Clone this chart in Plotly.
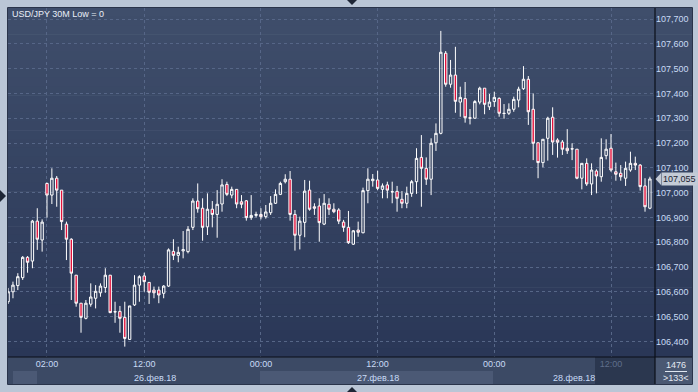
import pandas as pd
import plotly.graph_objects as go

# ---------------- data ----------------
title_text = "USD/JPY 30M Low = 0"
start_time = "2018-02-25 22:00"

open_ = [106.560, 106.600, 106.625, 106.657, 106.739, 106.724, 106.885, 106.809, 107.037, 106.990,
         107.058, 107.010, 106.873, 106.812, 106.667, 106.554, 106.493, 106.550, 106.574, 106.596,
         106.617, 106.667, 106.520, 106.521, 106.497, 106.408, 106.547, 106.627, 106.664, 106.638,
         106.607, 106.607, 106.594, 106.623, 106.763, 106.747, 106.765, 106.762, 106.860, 106.966,
         106.937, 106.862, 106.933, 106.912, 106.954, 107.033, 106.990, 107.013, 106.963, 106.967,
         106.899, 106.908, 106.912, 106.903, 106.919, 106.957, 106.993, 107.044, 107.054, 106.912,
         106.828, 106.880, 107.010, 106.943, 106.946, 106.873, 106.953, 106.933, 106.930, 106.881,
         106.860, 106.792, 106.849, 106.838, 107.008, 107.048, 107.051, 107.013, 107.031, 107.004,
         107.005, 106.973, 106.957, 106.997, 107.044, 107.142, 107.098, 107.054, 107.201, 107.239,
         107.562, 107.437, 107.474, 107.365, 107.379, 107.302, 107.300, 107.365, 107.421, 107.346,
         107.367, 107.380, 107.320, 107.320, 107.336, 107.373, 107.419, 107.457, 107.336, 107.201,
         107.121, 107.219, 107.304, 107.212, 107.204, 107.179, 107.177, 107.175, 107.058, 107.118,
         107.035, 107.087, 107.064, 107.149, 107.179, 107.084, 107.078, 107.058, 107.091, 107.118,
         107.111, 107.027, 106.937]
high = [106.615, 106.641, 106.675, 106.744, 106.744, 106.890, 106.937, 106.892, 107.040, 107.098,
        107.067, 107.010, 106.883, 106.816, 106.667, 106.554, 106.567, 106.634, 106.627, 106.634,
        106.695, 106.667, 106.560, 106.543, 106.560, 106.543, 106.667, 106.667, 106.677, 106.638,
        106.621, 106.621, 106.627, 106.775, 106.812, 106.782, 106.845, 106.865, 106.977, 107.037,
        106.977, 106.997, 106.966, 107.010, 107.054, 107.044, 107.024, 107.013, 106.990, 106.970,
        106.990, 106.923, 106.937, 106.950, 106.986, 107.013, 107.044, 107.074, 107.087, 106.930,
        106.903, 107.051, 107.048, 106.957, 106.977, 106.994, 106.977, 106.957, 106.937, 106.890,
        106.926, 106.849, 106.883, 107.020, 107.098, 107.075, 107.088, 107.037, 107.044, 107.044,
        107.027, 107.006, 107.024, 107.051, 107.179, 107.232, 107.142, 107.219, 107.279, 107.652,
        107.571, 107.535, 107.588, 107.427, 107.446, 107.337, 107.373, 107.427, 107.421, 107.398,
        107.407, 107.384, 107.357, 107.360, 107.387, 107.427, 107.510, 107.470, 107.400, 107.201,
        107.215, 107.306, 107.344, 107.219, 107.212, 107.256, 107.199, 107.175, 107.118, 107.138,
        107.118, 107.094, 107.219, 107.215, 107.236, 107.121, 107.111, 107.125, 107.165, 107.145,
        107.115, 107.058, 107.064]
low = [106.551, 106.574, 106.607, 106.648, 106.677, 106.695, 106.769, 106.762, 106.899, 106.954,
       106.943, 106.849, 106.728, 106.567, 106.540, 106.435, 106.489, 106.540, 106.533, 106.580,
       106.596, 106.514, 106.475, 106.435, 106.379, 106.406, 106.543, 106.560, 106.600, 106.551,
       106.574, 106.554, 106.574, 106.620, 106.728, 106.719, 106.735, 106.755, 106.849, 106.919,
       106.806, 106.829, 106.860, 106.818, 106.923, 106.986, 106.977, 106.937, 106.937, 106.887,
       106.890, 106.900, 106.892, 106.895, 106.910, 106.954, 106.990, 107.037, 106.887, 106.766,
       106.771, 106.820, 106.927, 106.910, 106.802, 106.869, 106.910, 106.917, 106.873, 106.842,
       106.793, 106.789, 106.822, 106.836, 106.957, 107.024, 107.010, 106.977, 106.977, 106.957,
       106.923, 106.937, 106.937, 106.983, 106.995, 106.943, 107.031, 106.990, 107.168, 107.235,
       107.427, 107.423, 107.322, 107.306, 107.282, 107.275, 107.298, 107.356, 107.316, 107.333,
       107.346, 107.306, 107.298, 107.313, 107.326, 107.344, 107.414, 107.273, 107.131, 107.058,
       107.102, 107.129, 107.152, 107.141, 107.152, 107.156, 107.131, 107.054, 107.013, 107.027,
       106.990, 106.997, 107.044, 107.134, 107.084, 107.048, 107.048, 107.027, 107.084, 107.091,
       107.008, 106.923, 106.933]
close = [106.600, 106.627, 106.661, 106.739, 106.719, 106.885, 106.812, 106.881, 106.990, 107.058,
         107.010, 106.883, 106.812, 106.675, 106.554, 106.497, 106.554, 106.579, 106.602, 106.623,
         106.667, 106.516, 106.519, 106.493, 106.412, 106.543, 106.627, 106.661, 106.641, 106.598,
         106.596, 106.587, 106.623, 106.769, 106.747, 106.759, 106.770, 106.852, 106.966, 106.935,
         106.860, 106.933, 106.912, 106.953, 107.031, 106.993, 107.013, 106.954, 106.953, 106.899,
         106.908, 106.912, 106.903, 106.922, 106.957, 106.993, 107.037, 107.054, 106.912, 106.828,
         106.885, 107.006, 106.933, 106.937, 106.879, 106.957, 106.933, 106.923, 106.885, 106.860,
         106.798, 106.846, 106.840, 107.008, 107.054, 107.054, 107.017, 107.027, 107.010, 107.003,
         106.977, 106.957, 106.997, 107.044, 107.138, 107.098, 107.054, 107.199, 107.239, 107.566,
         107.437, 107.474, 107.368, 107.384, 107.302, 107.300, 107.367, 107.421, 107.356, 107.365,
         107.384, 107.320, 107.319, 107.336, 107.376, 107.417, 107.457, 107.326, 107.199, 107.121,
         107.215, 107.300, 107.204, 107.203, 107.175, 107.169, 107.176, 107.058, 107.118, 107.035,
         107.091, 107.067, 107.142, 107.175, 107.091, 107.074, 107.064, 107.098, 107.118, 107.111,
         107.024, 106.943, 107.055]

price_ticks = [106.4, 106.5, 106.6, 106.7, 106.8, 106.9, 107.0, 107.1, 107.2, 107.3, 107.4, 107.5, 107.6, 107.7]
price_tick_labels = ["106,400", "106,500", "106,600", "106,700", "106,800", "106,900", "107,000",
                     "107,100", "107,200", "107,300", "107,400", "107,500", "107,600", "107,700"]
time_ticks = ["2018-02-26 02:00", "2018-02-26 12:00", "2018-02-27 00:00",
              "2018-02-27 12:00", "2018-02-28 00:00", "2018-02-28 12:00"]
time_tick_labels = ["02:00", "12:00", "00:00", "12:00", "00:00", "12:00"]
date_labels = ["26.фев.18", "27.фев.18", "28.фев.18"]
last_price = 107.055
last_price_label = "107,055"
bar_total = "1476"
bars_visible = ">133<"

times = pd.date_range(start_time, periods=len(close), freq="30min")

# ---------------- geometry helpers (pixels -> paper) ----------------
W, H = 698, 392
PL, PR, PT, PB = 8, 655, 8, 357          # plot area in pixels
RP = 692                                  # right edge of the axis panel
PW, PH = PR - PL, PB - PT


def px(x):
    return (x - PL) / PW


def py(y):
    return (PB - y) / PH


FONT = "Liberation Sans, Arial, sans-serif"
TXT = "#c9dbf5"

shapes = []
# vertical gradient of the chart panel (plot + price axis)
top_c = (63, 78, 107)
bot_c = (42, 55, 87)
N = 40
for k in range(N):
    t = (k + 0.5) / N
    c = tuple(round(top_c[j] + (bot_c[j] - top_c[j]) * t) for j in range(3))
    y0 = PT + PH * k / N
    y1 = PT + PH * (k + 1) / N + 0.6
    shapes.append(dict(type="rect", xref="paper", yref="paper", layer="below",
                       x0=px(PL), x1=px(RP), y0=py(y1), y1=py(y0),
                       fillcolor="rgb(%d,%d,%d)" % c, line=dict(width=0)))

# time-axis strip
shapes.append(dict(type="rect", xref="paper", yref="paper", layer="below",
                   x0=0, x1=1, y0=py(384), y1=0, fillcolor="#3c4a65", line=dict(width=0)))
for a, b in [(13, 37), (260, 493)]:
    shapes.append(dict(type="rect", xref="paper", yref="paper", layer="below",
                       x0=px(a), x1=px(b), y0=py(384), y1=py(371),
                       fillcolor="#4b5975", line=dict(width=0)))
shapes.append(dict(type="rect", xref="paper", yref="paper", layer="below",
                   x0=px(595), x1=1, y0=py(384), y1=0, fillcolor="#2b374f", line=dict(width=0)))
# bottom-right info box
shapes.append(dict(type="rect", xref="paper", yref="paper", layer="below",
                   x0=1, x1=px(RP), y0=py(384), y1=0, fillcolor="#4a5872", line=dict(width=0)))
shapes.append(dict(type="line", xref="paper", yref="paper", x0=px(665), x1=px(687),
                   y0=py(371.5), y1=py(371.5), line=dict(color="#dfe6f0", width=1)))
# frame lines
shapes.append(dict(type="rect", xref="paper", yref="paper", x0=px(7.5), x1=px(RP + 0.5),
                   y0=py(384.5), y1=py(7.5), line=dict(color="#2a344a", width=1)))
shapes.append(dict(type="line", xref="paper", yref="paper", x0=1, x1=1, y0=py(384), y1=1,
                   line=dict(color="#0b0f18", width=1.2)))
shapes.append(dict(type="line", xref="paper", yref="paper", x0=0, x1=px(RP), y0=0, y1=0,
                   line=dict(color="#0b0f18", width=1.2)))
# little navigation triangles on the outer frame
shapes.append(dict(type="path", xref="paper", yref="paper",
                   path="M %f,%f L %f,%f L %f,%f Z" % (px(0), py(190), px(6), py(196), px(0), py(202)),
                   fillcolor="#1e2636", line=dict(width=0)))
shapes.append(dict(type="path", xref="paper", yref="paper",
                   path="M %f,%f L %f,%f L %f,%f Z" % (px(347), py(0), px(357), py(0), px(352), py(5)),
                   fillcolor="#1e2636", line=dict(width=0)))
shapes.append(dict(type="path", xref="paper", yref="paper",
                   path="M %f,%f L %f,%f L %f,%f Z" % (px(347), py(392), px(357), py(392), px(352), py(387)),
                   fillcolor="#1e2636", line=dict(width=0)))
# pointer of the last-price label
shapes.append(dict(type="path", xref="paper", yref="y",
                   path="M %f,%f L %f,%f L %f,%f Z" % (px(661), last_price + 6 / 248,
                                                       px(655.5), last_price,
                                                       px(661), last_price - 6 / 248),
                   fillcolor="#c4cbd6", line=dict(width=0)))

fig = go.Figure(go.Candlestick(
    x=times, open=open_, high=high, low=low, close=close,
    increasing=dict(line=dict(color="#ffffff", width=1), fillcolor="rgba(0,0,0,0)"),
    decreasing=dict(line=dict(color="#ffffff", width=1), fillcolor="#e3113b"),
    whiskerwidth=0, hoverinfo="skip", showlegend=False,
))

half = pd.Timedelta(minutes=30)
x_left = times[0] - half * 0.02
x_right = times[0] + half * 133.05

ticktext_x = list(time_tick_labels)
ticktext_x[-1] = '<span style="color:#5f6e8a">%s</span>' % ticktext_x[-1]

annotations = [
    dict(text=title_text, xref="paper", yref="paper", x=px(10), y=py(14), xanchor="left",
         yanchor="middle", showarrow=False, font=dict(family=FONT, size=9, color="#e9eef7")),
    dict(text=date_labels[0], xref="paper", yref="paper", x=px(155), y=py(377.5), xanchor="center",
         yanchor="middle", showarrow=False, font=dict(family=FONT, size=9, color=TXT)),
    dict(text=date_labels[1], xref="paper", yref="paper", x=px(378), y=py(377.5), xanchor="center",
         yanchor="middle", showarrow=False, font=dict(family=FONT, size=9, color=TXT)),
    dict(text=date_labels[2], xref="paper", yref="paper", x=px(597), y=py(377.5), xanchor="right",
         yanchor="middle", showarrow=False, font=dict(family=FONT, size=9, color=TXT)),
    dict(text=bar_total, xref="paper", yref="paper", x=px(676), y=py(365), xanchor="center",
         yanchor="middle", showarrow=False, font=dict(family=FONT, size=9, color="#e4eaf3")),
    dict(text=bars_visible, xref="paper", yref="paper", x=px(676), y=py(378), xanchor="center",
         yanchor="middle", showarrow=False, font=dict(family=FONT, size=9, color="#e4eaf3")),
    dict(text=last_price_label, xref="paper", yref="y", x=px(660.5), y=last_price, xanchor="left",
         yanchor="middle", showarrow=False, bgcolor="#c4cbd6", borderpad=1,
         font=dict(family=FONT, size=9, color="#1b2333")),
]

fig.update_layout(
    width=W, height=H,
    margin=dict(l=PL, r=W - PR, t=PT, b=H - PB, pad=0),
    paper_bgcolor="#bac6d6",
    plot_bgcolor="rgba(0,0,0,0)",
    shapes=shapes,
    annotations=annotations,
    showlegend=False,
    xaxis=dict(
        type="date", range=[x_left, x_right], rangeslider=dict(visible=False),
        tickmode="array", tickvals=time_ticks, ticktext=ticktext_x,
        showgrid=True, gridcolor="#566687", griddash="3px,3px", gridwidth=1,
        zeroline=False, showline=False, ticks="", automargin=False,
        tickfont=dict(family=FONT, size=9, color=TXT),
    ),
    yaxis=dict(
        side="right", range=[106.3371, 107.7444],
        tickmode="array", tickvals=price_ticks, ticktext=price_tick_labels,
        showgrid=True, gridcolor="#566687", griddash="3px,3px", gridwidth=1,
        zeroline=False, showline=False, ticks="", automargin=False,
        tickfont=dict(family=FONT, size=9, color=TXT),
    ),
)

fig.write_html("out.html", config={"displayModeBar": False},
               post_script="document.body.style.margin='0';document.body.style.overflow='hidden';")
